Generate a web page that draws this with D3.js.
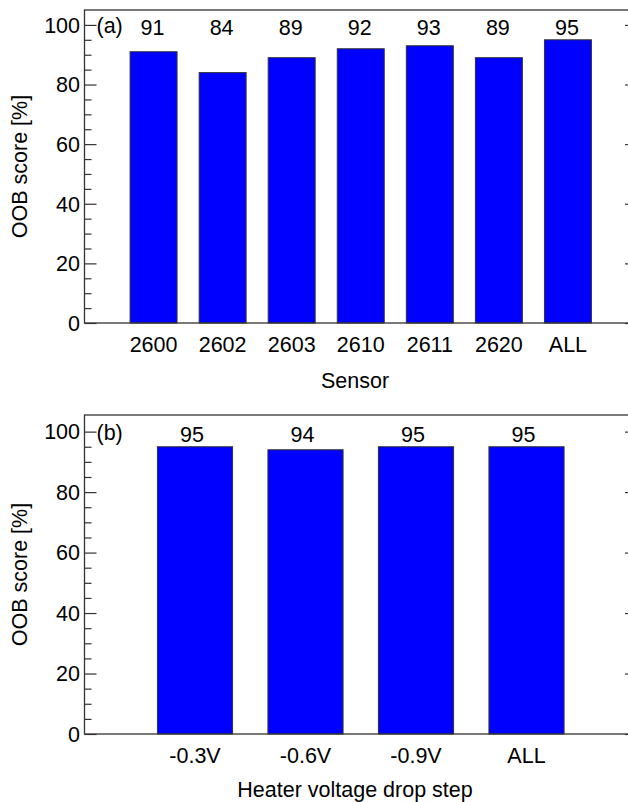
<!DOCTYPE html>
<html>
<head>
<meta charset="utf-8">
<script src="https://cdn.jsdelivr.net/npm/d3@7"></script>
<style>
  html, body { margin: 0; padding: 0; background: #fff; }
  svg { display: block; }
  text { font-family: Arial, "Liberation Sans", sans-serif; fill: #000; }
</style>
</head>
<body>
<svg id="chart" width="628" height="802"></svg>
<script>
// Panel (a): OOB score per sensor
const sensorLabels = ["2600", "2602", "2603", "2610", "2611", "2620", "ALL"];
const sensorScores = [91, 84, 89, 92, 93, 89, 95];

// Panel (b): OOB score per heater voltage drop step
const stepLabels = ["-0.3V", "-0.6V", "-0.9V", "ALL"];
const stepScores = [95, 94, 95, 95];

const yMajorTicks = [0, 20, 40, 60, 80, 100];

const svg = d3.select("#chart");
const FONT = 21.5;
const AXIS_COLOR = "#333";

function drawPanel(cfg) {
  const { labels, values, top, bottom, yMax, left, right, tag, xTitle,
          xLabelY, xTitleY, valueLabelY, valueDx } = cfg;
  const g = svg.append("g");
  const n = labels.length;

  const x = d3.scaleLinear().domain([0, n + 1]).range([left, right]);
  const y = d3.scaleLinear().domain([0, yMax]).range([bottom, top]);
  const step = x(1) - x(0);
  const bw = step * 0.68;

  // bars
  g.selectAll("rect.bar").data(values).join("rect")
    .attr("class", "bar")
    .attr("x", (d, i) => x(i + 1) - bw / 2)
    .attr("y", d => y(d))
    .attr("width", bw)
    .attr("height", d => y(0) - y(d))
    .attr("fill", "#0000ff")
    .attr("stroke", "#333")
    .attr("stroke-width", 1);

  // left axis: major ticks inward, minor ticks every 5
  const minor = d3.range(0, 101, 5).filter(v => v % 20 !== 0);
  const leftAxis = d3.axisRight(y).tickValues(yMajorTicks).tickSize(12).tickFormat("");
  const leftMinor = d3.axisRight(y).tickValues(minor).tickSize(7).tickFormat("");
  [leftAxis, leftMinor].forEach(ax => {
    g.append("g").attr("transform", `translate(${left},0)`).call(ax)
      .call(s => s.select(".domain").remove())
      .call(s => s.selectAll("line").attr("stroke", AXIS_COLOR).attr("stroke-width", 1.2));
  });
  // right axis ticks (inward)
  const rightAxis = d3.axisLeft(y).tickValues(yMajorTicks).tickSize(12).tickFormat("");
  const rightMinor = d3.axisLeft(y).tickValues(minor).tickSize(7).tickFormat("");
  [rightAxis, rightMinor].forEach(ax => {
    g.append("g").attr("transform", `translate(${right},0)`).call(ax)
      .call(s => s.select(".domain").remove())
      .call(s => s.selectAll("line").attr("stroke", AXIS_COLOR).attr("stroke-width", 1.2));
  });

  // y tick labels
  g.selectAll("text.ytick").data(yMajorTicks).join("text")
    .attr("class", "ytick")
    .attr("x", left - 4.5)
    .attr("y", d => y(d))
    .attr("dy", "0.36em")
    .attr("text-anchor", "end")
    .attr("font-size", FONT)
    .text(d => d);

  // frame
  g.append("rect")
    .attr("x", left).attr("y", top)
    .attr("width", right - left).attr("height", bottom - top)
    .attr("fill", "none").attr("stroke", AXIS_COLOR).attr("stroke-width", 1.3);

  // x tick labels
  g.selectAll("text.xtick").data(labels).join("text")
    .attr("class", "xtick")
    .attr("x", (d, i) => x(i + 1))
    .attr("y", xLabelY)
    .attr("text-anchor", "middle")
    .attr("font-size", FONT)
    .text(d => d);

  // value labels
  g.selectAll("text.val").data(values).join("text")
    .attr("class", "val")
    .attr("x", (d, i) => x(i + 1) + valueDx)
    .attr("y", valueLabelY)
    .attr("text-anchor", "middle")
    .attr("font-size", FONT)
    .text(d => d);

  // panel tag
  g.append("text")
    .attr("x", left + 12)
    .attr("y", y(100) + 8)
    .attr("font-size", FONT)
    .text(tag);

  // axis titles
  g.append("text")
    .attr("transform", `translate(27,${(top + bottom) / 2}) rotate(-90)`)
    .attr("text-anchor", "middle")
    .attr("font-size", FONT)
    .text("OOB score [%]");

  g.append("text")
    .attr("x", 355)
    .attr("y", xTitleY)
    .attr("text-anchor", "middle")
    .attr("font-size", FONT)
    .text(xTitle);
}

drawPanel({
  labels: sensorLabels, values: sensorScores,
  top: 10, bottom: 323, yMax: 105, left: 84.5, right: 637,
  tag: "(a)", xTitle: "Sensor",
  xLabelY: 352, xTitleY: 388, valueLabelY: 35, valueDx: -1
});

drawPanel({
  labels: stepLabels, values: stepScores,
  top: 415, bottom: 734, yMax: 105.5, left: 84.5, right: 637,
  tag: "(b)", xTitle: "Heater voltage drop step",
  xLabelY: 763, xTitleY: 797, valueLabelY: 442, valueDx: -3
});
</script>
</body>
</html>
